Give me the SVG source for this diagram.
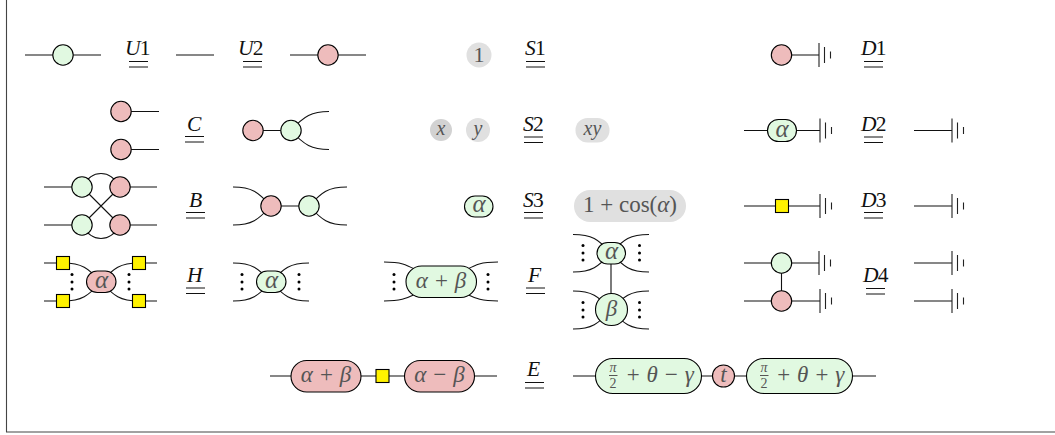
<svg xmlns="http://www.w3.org/2000/svg" xmlns:xlink="http://www.w3.org/1999/xlink" width="1055" height="435" viewBox="0 0 1055 435">
<style>
.w{fill:none;stroke:#111;stroke-width:1.1}
.n{stroke:#000;stroke-width:1.1}
.g{fill:#e1f9e1}.r{fill:#eebcbc}.y{fill:#fff200}
.s{fill:#e0e0e0}.s2{fill:#d2d2d2}
.eq{fill:none;stroke:#111;stroke-width:1}
text{font-family:"Liberation Serif","Times New Roman",serif}
.l{font-size:21.500px;font-style:italic;fill:#111;letter-spacing:-0.800px}
.l tspan{font-style:normal}
.t{font-size:23px;font-style:italic;fill:#555;text-anchor:middle}
.a{font-size:25px}
.v{font-size:20px}
.o{font-size:22px}
.t tspan{font-style:normal}
.f{font-size:14px}
.d{fill:#000}
</style>
<defs>
<path id="ground" d="M0-12V12M5.500-8V8M11.500-3.500V3.500" fill="none" stroke="#222" stroke-width="1.100"/>
<path id="eq" class="eq" d="M0 0H19M0 5.500H19"/>
<g id="dots"><circle class="d" cx="0" cy="-7.500" r="1.500"/><circle class="d" cx="0" cy="0" r="1.500"/><circle class="d" cx="0" cy="7" r="1.500"/></g>
</defs>
<path d="M6.500 0V432H1055" fill="none" stroke="#444" stroke-width="1.100"/>
<g id="connectors">
<path class="w" d="M25 55H101M176 55H214M290 55H366"/>
<path class="w" d="M121 111.500H159M121 149.500H159M253 130.500H291M291 130.500C304 116 312 111.500 329 111.500M291 130.500C304 145 312 149.500 329 149.500"/>
<path class="w" d="M44 187H82M44 225H82M120 187H157M120 225H157M82 187L120 225M120 187L82 225M82 187C92 169 110 169 120 187M82 225C92 243 110 243 120 225"/>
<path class="w" d="M233 187C252 187 258 192 271 206C258 220 252 225 233 225M271 206H309M347 187C328 187 322 192 309 206C322 220 328 225 347 225"/>
<path class="w" d="M44 263H63M44 301H63M63 263C82 263 88 268 101 282C88 296 82 301 63 301M139 263C120 263 114 268 101 282C114 296 120 301 139 301M139 263H157M139 301H157"/>
<path class="w" d="M233 263C252 263 258 268 271 282C258 296 252 301 233 301M309 263C290 263 284 268 271 282C284 296 290 301 309 301"/>
<path class="w" d="M384 262C405 262 408 266 420 272M384 301C405 301 408 297 420 292M498 262C477 262 474 266 462 272M498 301C477 301 474 297 462 292"/>
<path class="w" d="M573 234.500C592 234.500 598 239 611 253C598 267 592 272 573 272M649 234.500C630 234.500 624 239 611 253C624 267 630 272 649 272M611 253V309"/>
<path class="w" d="M573 291C592 291 598 296 611 310C598 324 592 329 573 329M649 291C630 291 624 296 611 310C624 324 630 329 649 329"/>
<path class="w" d="M781 55H819M744 130.500H820M914 130.500H952M744 206H820M914 206H952M744 263H819M744 301H820M781.500 263V301M914 263H952M914 301H952"/>
<path class="w" d="M270 376H497M573 376H876"/>
<use xlink:href="#ground" x="819" y="55"/><use xlink:href="#ground" x="820" y="130.500"/><use xlink:href="#ground" x="952" y="130.500"/>
<use xlink:href="#ground" x="820" y="206"/><use xlink:href="#ground" x="952" y="206"/>
<use xlink:href="#ground" x="819" y="263"/><use xlink:href="#ground" x="820" y="301"/>
<use xlink:href="#ground" x="952" y="263"/><use xlink:href="#ground" x="952" y="301"/>
</g>
<g id="u1"><circle class="n g" cx="63" cy="55" r="10.200"/></g>
<g id="u2"><circle class="n r" cx="328" cy="55" r="10.200"/></g>
<g id="c"><circle class="n r" cx="121" cy="111.500" r="10.200"/><circle class="n r" cx="121" cy="149.500" r="10.200"/><circle class="n r" cx="253" cy="130.500" r="10.200"/><circle class="n g" cx="291" cy="130.500" r="10.200"/></g>
<g id="b"><circle class="n g" cx="82" cy="187" r="10.200"/><circle class="n r" cx="120" cy="187" r="10.200"/><circle class="n g" cx="82" cy="225" r="10.200"/><circle class="n r" cx="120" cy="225" r="10.200"/><circle class="n r" cx="271" cy="206" r="10.200"/><circle class="n g" cx="309" cy="206" r="10.200"/></g>
<g id="h-left">
<rect class="n y" x="56.500" y="256.500" width="13" height="13"/><rect class="n y" x="56.500" y="294.500" width="13" height="13"/>
<rect class="n y" x="132.500" y="256.500" width="13" height="13"/><rect class="n y" x="132.500" y="294.500" width="13" height="13"/>
<rect class="n r" x="86.500" y="271" width="29.500" height="21.500" rx="10.750"/>
<text class="t a" x="101.500" y="288">α</text>
<use xlink:href="#dots" x="72" y="282"/><use xlink:href="#dots" x="129" y="282"/>
</g>
<g id="h-right">
<rect class="n g" x="256.500" y="271" width="29.500" height="21.500" rx="10.750"/>
<text class="t a" x="271.500" y="288">α</text>
<use xlink:href="#dots" x="242" y="282"/><use xlink:href="#dots" x="299" y="282"/>
</g>
<g id="s1"><circle class="s" cx="479" cy="55" r="12.500"/><text class="t o" x="479" y="62"><tspan>1</tspan></text></g>
<g id="s2"><circle class="s2" cx="441" cy="130" r="11"/><text class="t v" x="441" y="135">x</text><circle class="s" cx="478" cy="130" r="12"/><text class="t v" x="478" y="135">y</text>
<rect class="s" x="575.500" y="118" width="34" height="24.500" rx="12"/><text class="t v" x="592.500" y="135">xy</text></g>
<g id="s3"><rect class="n g" x="464.500" y="196" width="28.500" height="21" rx="10.500"/><text class="t a" x="479" y="212">α</text>
<rect class="s" x="574" y="190" width="112" height="32" rx="16"/><text class="t" x="630" y="212"><tspan>1 + cos(</tspan>α<tspan>)</tspan></text></g>
<g id="f-left"><rect class="n g" x="406" y="266" width="70.500" height="31.500" rx="15.750"/><text class="t" x="441" y="288">α + β</text>
<use xlink:href="#dots" x="394" y="282"/><use xlink:href="#dots" x="488" y="282"/></g>
<g id="f-right"><rect class="n g" x="597" y="242.500" width="28.500" height="21.500" rx="10.750"/><text class="t a" x="611.500" y="259">α</text>
<circle class="n g" cx="611.500" cy="309.500" r="16"/><text class="t" x="611.500" y="316">β</text>
<use xlink:href="#dots" x="583" y="253"/><use xlink:href="#dots" x="639.500" y="253"/><use xlink:href="#dots" x="583" y="310"/><use xlink:href="#dots" x="639.500" y="310"/></g>
<g id="d1"><circle class="n r" cx="781.500" cy="55" r="10.200"/></g>
<g id="d2"><rect class="n g" x="767.500" y="119.500" width="29" height="22" rx="11"/><text class="t a" x="782" y="136.500">α</text></g>
<g id="d3"><rect class="n y" x="775.500" y="199.500" width="13" height="13"/></g>
<g id="d4"><circle class="n g" cx="781.500" cy="263" r="10.200"/><circle class="n r" cx="781.500" cy="301" r="10.200"/></g>
<g id="e-left"><rect class="n r" x="291" y="360.500" width="70" height="31.500" rx="15.750"/><text class="t" x="326" y="382">α + β</text>
<rect class="n y" x="376" y="369.500" width="13" height="13"/>
<rect class="n r" x="404.500" y="360.500" width="70" height="31.500" rx="15.750"/><text class="t" x="439.500" y="382">α − β</text></g>
<g id="e-right"><rect class="n g" x="595.500" y="358.500" width="106" height="35" rx="17.500"/>
<text class="t f" x="613" y="372">π</text><path d="M609 375.500H617.500" stroke="#555" stroke-width="1"/><text class="t f" x="613" y="388"><tspan>2</tspan></text>
<text class="t" x="659.500" y="382">+ θ − γ</text>
<circle class="n r" cx="723.500" cy="376" r="11"/><text class="t" x="723.500" y="382">t</text>
<rect class="n g" x="746.500" y="358.500" width="106" height="35" rx="17.500"/>
<text class="t f" x="764" y="372">π</text><path d="M760 375.500H768.500" stroke="#555" stroke-width="1"/><text class="t f" x="764" y="388"><tspan>2</tspan></text>
<text class="t" x="810" y="382">+ θ + γ</text></g>
<g id="labels">
<text class="l" x="125" y="54.500">U<tspan>1</tspan></text><use xlink:href="#eq" x="129" y="61.500"/>
<text class="l" x="238" y="54.500">U<tspan>2</tspan></text><use xlink:href="#eq" x="243" y="61.500"/>
<text class="l" x="187" y="130.500">C</text><use xlink:href="#eq" x="185" y="136.500"/>
<text class="l" x="189" y="206.500">B</text><use xlink:href="#eq" x="186" y="212.500"/>
<text class="l" x="187" y="281.500">H</text><use xlink:href="#eq" x="186" y="288"/>
<text class="l" x="525" y="54.500">S<tspan>1</tspan></text><use xlink:href="#eq" x="526" y="61.500"/>
<text class="l" x="523" y="130.500">S<tspan>2</tspan></text><use xlink:href="#eq" x="524" y="137"/>
<text class="l" x="523" y="206.500">S<tspan>3</tspan></text><use xlink:href="#eq" x="524" y="212.500"/>
<text class="l" x="528" y="281.500">F</text><use xlink:href="#eq" x="526" y="288"/>
<text class="l" x="861" y="54.500">D<tspan>1</tspan></text><use xlink:href="#eq" x="864" y="61.500"/>
<text class="l" x="861" y="130.500">D<tspan>2</tspan></text><use xlink:href="#eq" x="864" y="137"/>
<text class="l" x="861" y="206.500">D<tspan>3</tspan></text><use xlink:href="#eq" x="864" y="212.500"/>
<text class="l" x="863" y="281.500">D<tspan>4</tspan></text><use xlink:href="#eq" x="866" y="288.500"/>
<text class="l" x="527" y="375.500">E</text><use xlink:href="#eq" x="525" y="382.500"/>
</g>
</svg>
